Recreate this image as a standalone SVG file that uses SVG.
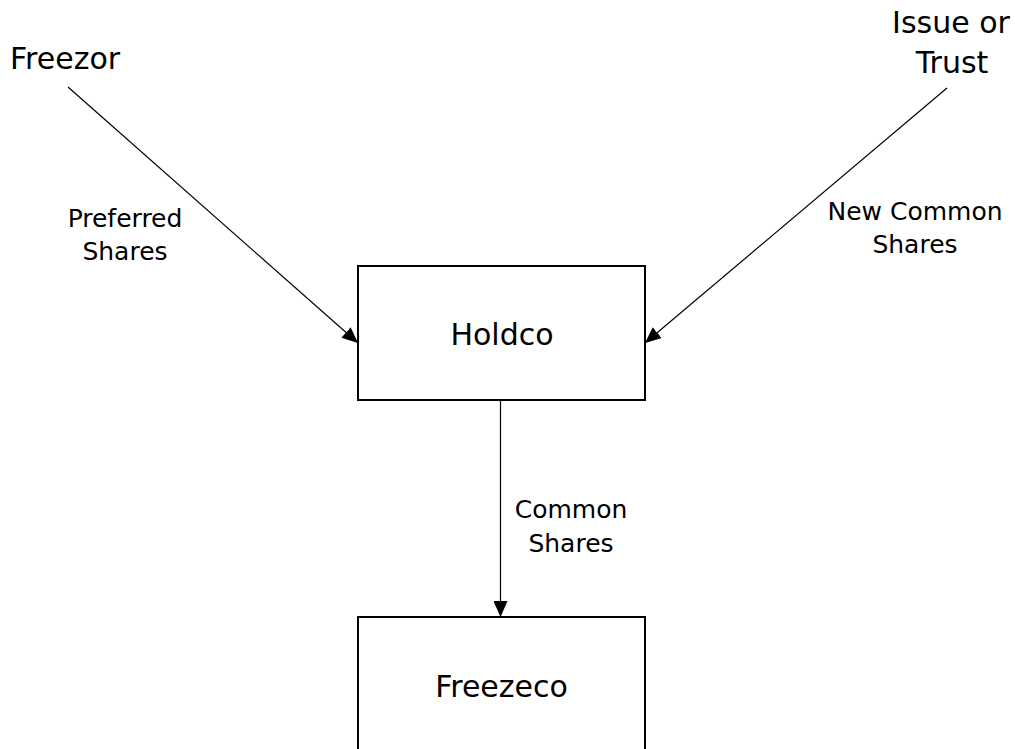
<svg xmlns="http://www.w3.org/2000/svg" width="1015" height="749" viewBox="0 0 1015 749">
  <style>
    .box { fill: #ffffff; stroke: #000000; stroke-width: 2; }
    .main { font-family: "DejaVu Sans", "Liberation Sans", sans-serif; font-size: 30px; fill: #000000; }
    .small { font-family: "DejaVu Sans", "Liberation Sans", sans-serif; font-size: 25px; fill: #000000; text-anchor: middle; }
    .conn { stroke: #000000; stroke-width: 1.2; fill: none; marker-end: url(#arrow); }
  </style>
  <defs>
    <marker id="arrow" markerUnits="userSpaceOnUse" markerWidth="16" markerHeight="14" refX="16" refY="7" orient="auto">
      <path d="M0,0 L16,7 L0,14 Z" fill="#000000"/>
    </marker>
  </defs>
  <rect width="1015" height="749" fill="#ffffff"/>

  <!-- share flows -->
  <g id="connectors">
    <line class="conn" x1="68" y1="87" x2="358" y2="343"/>
    <line class="conn" x1="947" y1="88" x2="645" y2="343"/>
    <line class="conn" x1="500.5" y1="400" x2="500.5" y2="617"/>
    <text class="small" x="125" y="227">Preferred</text>
    <text class="small" x="125" y="260">Shares</text>
    <text class="small" x="915" y="220">New Common</text>
    <text class="small" x="915" y="253">Shares</text>
    <text class="small" x="571" y="518">Common</text>
    <text class="small" x="571" y="552">Shares</text>
  </g>

  <g id="freezor">
    <text class="main" x="10" y="69">Freezor</text>
  </g>

  <g id="issue-or-trust">
    <text class="main" x="951" y="33" text-anchor="middle">Issue or</text>
    <text class="main" x="952" y="73" text-anchor="middle">Trust</text>
  </g>

  <g id="holdco">
    <rect class="box" x="358" y="266" width="287" height="134"/>
    <text class="main" x="502" y="345" text-anchor="middle">Holdco</text>
  </g>

  <g id="freezeco">
    <rect class="box" x="358" y="617" width="287" height="150"/>
    <text class="main" x="501.5" y="697" text-anchor="middle">Freezeco</text>
  </g>
</svg>
